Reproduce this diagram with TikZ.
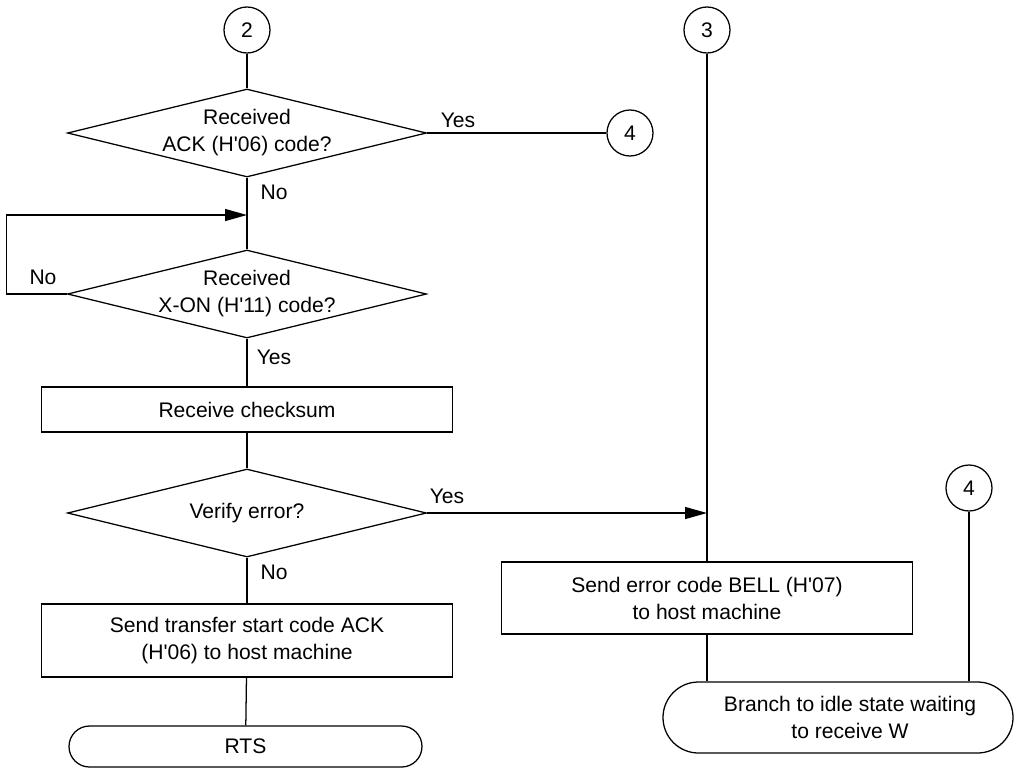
\documentclass[tikz,border=0pt]{standalone}
\usepackage{fontspec}
\setmainfont{Liberation Sans}
\usetikzlibrary{shapes.geometric, shapes.misc, arrows.meta}

\begin{document}
\begin{tikzpicture}[x=0.25mm, y=-0.25mm, line width=0.9pt,
  every node/.style={font=\fontsize{15}{19.2}\selectfont},
  conn/.style={draw, circle, minimum size=11.5mm, inner sep=0pt},
  decision/.style={draw, diamond, aspect=4.08, minimum width=89.75mm,
    minimum height=22mm, inner ysep=0pt, inner xsep=-1.5mm, align=center},
  process/.style={draw, rectangle, minimum width=102.75mm, inner sep=0pt, align=center},
  terminal/.style={draw, rounded rectangle, inner sep=0pt, align=center},
  lbl/.style={inner sep=0pt},
  arr/.style={-{Triangle[length=5.5mm, width=3mm]}},
]
  \useasboundingbox (0,0) rectangle (1020,771);
  % left column
  \node[conn] (c2) at (247,30) {2};
  \node[decision] (d1) at (247,133) {Received\\ACK (H\textquotesingle06) code?};
  \node[conn] (c4a) at (630,133) {4};
  \node[decision] (d2) at (247,294) {Received\\X-ON (H\textquotesingle11) code?};
  \node[process, minimum height=11.25mm] (chk) at (247,409.5) {Receive checksum};
  \node[decision] (d3) at (247,513) {Verify error?};
  \node[process, minimum height=18.25mm] (ack) at (247,640.5)
    {Send transfer start code ACK\\(H\textquotesingle06) to host machine};
  \node[terminal, minimum width=88.25mm, minimum height=10.25mm] (rts) at (245.5,746.5) {RTS};
  % right column
  \node[conn] (c3) at (707,30) {3};
  \node[conn] (c4b) at (969,488) {4};
  \node[process, minimum height=18mm] (bell) at (707,598)
    {Send error code BELL (H\textquotesingle07)\\to host machine};
  \node[terminal, minimum width=87.5mm, minimum height=17.75mm] (br) at (838,717.5)
    {\hspace*{6mm}Branch to idle state waiting\\\hspace*{6mm}to receive W};
  \coordinate (jn) at (247,215);
  \coordinate (jb) at (707,513);
  \draw (c2) -- (d1);
  \draw (d1) -- (c4a);
  \foreach \a/\b in {d1/d2, d2/chk, chk/d3, d3/ack, ack/rts} \draw (\a) -- (\b);
  \draw[arr] (d2.west) -- ++(-60,0) |- (jn);
  \draw[arr] (d3) -- (jb);
  \draw (c3) -- (bell);
  \draw (bell) -- (bell |- br.north);
  \draw (c4b) -- (c4b |- br.north);
  \node[lbl] at (458,120) {Yes};
  \node[lbl] at (274,192) {No};
  \node[lbl] at (43,277) {No};
  \node[lbl] at (274,357) {Yes};
  \node[lbl] at (447,496) {Yes};
  \node[lbl] at (274,572) {No};
\end{tikzpicture}
\end{document}
